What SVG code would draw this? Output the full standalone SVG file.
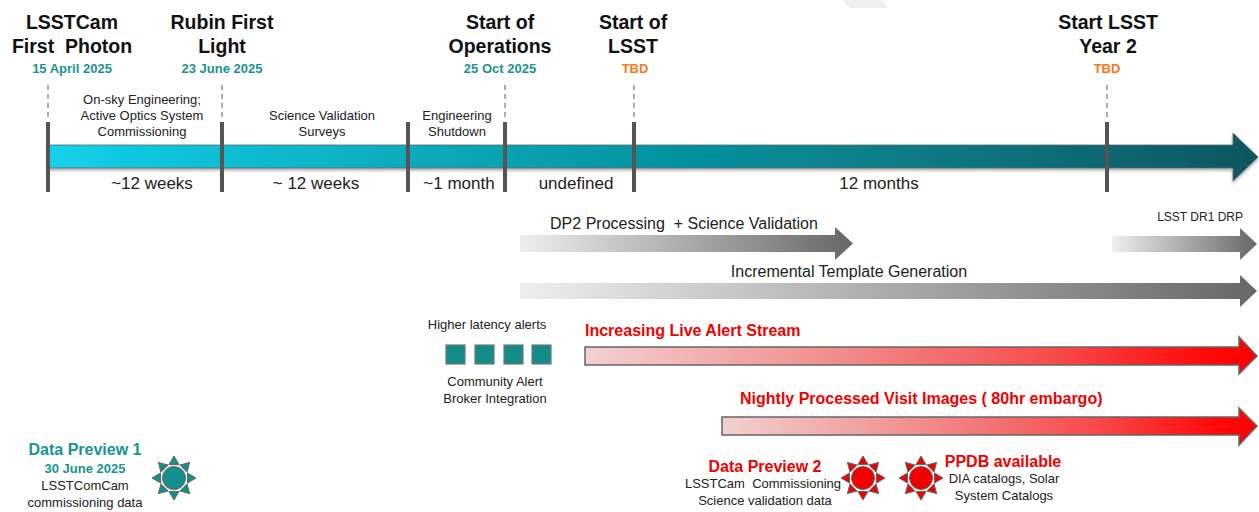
<svg xmlns="http://www.w3.org/2000/svg" width="1259" height="512" viewBox="0 0 1259 512">
<style>
  text { font-family: "Liberation Sans", Arial, sans-serif; }
  .h { font-weight: bold; font-size: 19.5px; fill: #111; text-anchor: middle; }
  .date { font-weight: bold; font-size: 13px; fill: #17948f; text-anchor: middle; }
  .tbd { font-weight: bold; font-size: 13px; fill: #f47b20; text-anchor: middle; }
  .ph { font-size: 13px; fill: #222; text-anchor: middle; }
  .dur { font-size: 17px; fill: #222; text-anchor: middle; }
  .glbl { font-size: 16px; fill: #222; text-anchor: middle; }
  .rlbl { font-weight: bold; font-size: 16px; fill: #f20000; }
  .tlbl { font-weight: bold; font-size: 16px; fill: #17948f; text-anchor: middle; }
  .tick { stroke: #555; stroke-width: 4; }
  .dash { stroke: #777; stroke-width: 1.2; stroke-dasharray: 5 4; }
  .sq { fill: #148c88; stroke: #777; stroke-width: 1.2; }
  .redarrow { stroke: #666; stroke-width: 1.5; }
</style>
<defs>
  <linearGradient id="gMain" gradientUnits="userSpaceOnUse" x1="48" y1="0" x2="1258" y2="0">
    <stop offset="0" stop-color="#14d0ea"/>
    <stop offset="0.15" stop-color="#0cbcd3"/>
    <stop offset="0.35" stop-color="#07a5b5"/>
    <stop offset="0.55" stop-color="#068f9b"/>
    <stop offset="0.78" stop-color="#0a737e"/>
    <stop offset="1" stop-color="#0c5660"/>
  </linearGradient>
  <linearGradient id="gGray" x1="0" y1="0" x2="1" y2="0">
    <stop offset="0" stop-color="#eeeeee"/>
    <stop offset="1" stop-color="#676767"/>
  </linearGradient>
  <linearGradient id="gRed" x1="0" y1="0" x2="1" y2="0">
    <stop offset="0" stop-color="#f2d0d0"/>
    <stop offset="0.4" stop-color="#f18787"/>
    <stop offset="0.7" stop-color="#f84a4a"/>
    <stop offset="0.92" stop-color="#ff0a0a"/>
    <stop offset="1" stop-color="#ff0000"/>
  </linearGradient>
  <filter id="shadow" x="-5%" y="-30%" width="110%" height="170%">
    <feDropShadow dx="0" dy="2" stdDeviation="1.5" flood-color="#000" flood-opacity="0.35"/>
  </filter>
  <g id="sun" stroke="#666" stroke-width="1">
    <polygon points="-5,-13.5 5,-13.5 0,-22"/>
    <polygon points="-5,-13.5 5,-13.5 0,-22" transform="rotate(45)"/>
    <polygon points="-5,-13.5 5,-13.5 0,-22" transform="rotate(90)"/>
    <polygon points="-5,-13.5 5,-13.5 0,-22" transform="rotate(135)"/>
    <polygon points="-5,-13.5 5,-13.5 0,-22" transform="rotate(180)"/>
    <polygon points="-5,-13.5 5,-13.5 0,-22" transform="rotate(225)"/>
    <polygon points="-5,-13.5 5,-13.5 0,-22" transform="rotate(270)"/>
    <polygon points="-5,-13.5 5,-13.5 0,-22" transform="rotate(315)"/>
    <circle cx="0" cy="0" r="11.5"/>
  </g>
</defs>

<polygon points="842,0 882,0 888,8 850,8" fill="#efefef"/>

<g id="timeline">
  <path d="M48,145 L1233,145 L1233,133 L1258,157 L1233,181 L1233,168 L48,168 Z" fill="url(#gMain)" stroke="#5a6a6c" stroke-width="0.8" filter="url(#shadow)"/>
</g>

<g id="connectors">
  <line class="dash" x1="48" y1="85" x2="48" y2="121"/>
  <line class="dash" x1="222" y1="85" x2="222" y2="121"/>
  <line class="dash" x1="505" y1="85" x2="505" y2="121"/>
  <line class="dash" x1="634" y1="85" x2="634" y2="121"/>
  <line class="dash" x1="1107" y1="85" x2="1107" y2="121"/>
  <line class="tick" x1="48" y1="122" x2="48" y2="192"/>
  <line class="tick" x1="222" y1="122" x2="222" y2="192"/>
  <line class="tick" x1="408" y1="122" x2="408" y2="192"/>
  <line class="tick" x1="505" y1="122" x2="505" y2="192"/>
  <line class="tick" x1="634" y1="122" x2="634" y2="192"/>
  <line class="tick" x1="1107" y1="122" x2="1107" y2="192"/>
</g>

<g id="m-first-photon">
  <text class="h" x="72" y="29">LSSTCam</text>
  <text class="h" x="72" y="53" xml:space="preserve">First  Photon</text>
  <text class="date" x="72" y="73">15 April 2025</text>
</g>
<g id="m-first-light">
  <text class="h" x="222" y="29">Rubin First</text>
  <text class="h" x="222" y="53">Light</text>
  <text class="date" x="222" y="73">23 June 2025</text>
</g>
<g id="m-start-ops">
  <text class="h" x="500" y="29">Start of</text>
  <text class="h" x="500" y="53">Operations</text>
  <text class="date" x="500" y="73">25 Oct 2025</text>
</g>
<g id="m-start-lsst">
  <text class="h" x="633" y="29">Start of</text>
  <text class="h" x="633" y="53">LSST</text>
  <text class="tbd" x="635" y="73">TBD</text>
</g>
<g id="m-year2">
  <text class="h" x="1108" y="29">Start LSST</text>
  <text class="h" x="1108" y="53">Year 2</text>
  <text class="tbd" x="1107" y="73">TBD</text>
</g>

<g id="phase-onsky">
  <text class="ph" x="142" y="104">On-sky Engineering;</text>
  <text class="ph" x="142" y="120">Active Optics System</text>
  <text class="ph" x="142" y="136">Commissioning</text>
  <text class="dur" x="152" y="189">~12 weeks</text>
</g>
<g id="phase-sv">
  <text class="ph" x="322" y="120">Science Validation</text>
  <text class="ph" x="322" y="136">Surveys</text>
  <text class="dur" x="316" y="189">~ 12 weeks</text>
</g>
<g id="phase-shutdown">
  <text class="ph" x="457" y="120">Engineering</text>
  <text class="ph" x="457" y="136">Shutdown</text>
  <text class="dur" x="459" y="189">~1 month</text>
</g>
<g id="phase-undefined">
  <text class="dur" x="576" y="189">undefined</text>
</g>
<g id="phase-12months">
  <text class="dur" x="879" y="189">12 months</text>
</g>

<g id="dp2-processing">
  <path d="M520,235 L835,235 L835,227 L853,243.5 L835,260 L835,252 L520,252 Z" fill="url(#gGray)"/>
  <text class="glbl" x="684" y="229" xml:space="preserve">DP2 Processing  + Science Validation</text>
</g>
<g id="dr1-drp">
  <path d="M1112,236 L1240,236 L1240,228 L1257,244 L1240,260 L1240,252 L1112,252 Z" fill="url(#gGray)"/>
  <text x="1243" y="221" font-size="12" fill="#222" text-anchor="end">LSST DR1 DRP</text>
</g>
<g id="template-gen">
  <path d="M520,283 L1240,283 L1240,275 L1257,291 L1240,307 L1240,299 L520,299 Z" fill="url(#gGray)"/>
  <text class="glbl" x="849" y="277" font-size="16.5">Incremental Template Generation</text>
</g>

<g id="broker">
  <text class="ph" x="487" y="329">Higher latency alerts</text>
  <rect class="sq" x="446" y="345" width="19" height="19"/>
  <rect class="sq" x="475" y="345" width="19" height="19"/>
  <rect class="sq" x="504" y="345" width="19" height="19"/>
  <rect class="sq" x="532" y="345" width="19" height="19"/>
  <text class="ph" x="495" y="386">Community Alert</text>
  <text class="ph" x="495" y="403">Broker Integration</text>
</g>

<g id="live-alerts">
  <path class="redarrow" d="M585,347 L1239,347 L1239,337 L1257,356 L1239,374 L1239,365 L585,365 Z" fill="url(#gRed)"/>
  <text class="rlbl" x="585" y="336">Increasing Live Alert Stream</text>
</g>
<g id="visit-images">
  <path class="redarrow" d="M722,417 L1239,417 L1239,408 L1257,426 L1239,445 L1239,435 L722,435 Z" fill="url(#gRed)"/>
  <text class="rlbl" x="740" y="404">Nightly Processed Visit Images ( 80hr embargo)</text>
</g>

<g id="dp1">
  <text class="tlbl" x="85" y="455">Data Preview 1</text>
  <text class="date" x="85" y="473">30 June 2025</text>
  <text class="ph" x="85" y="490">LSSTComCam</text>
  <text class="ph" x="85" y="507">commissioning data</text>
  <use href="#sun" x="174" y="478" fill="#13908c"/>
</g>
<g id="dp2">
  <text class="rlbl" x="765" y="472" text-anchor="middle">Data Preview 2</text>
  <text class="ph" x="763" y="488" font-size="12.5" xml:space="preserve">LSSTCam  Commissioning</text>
  <text class="ph" x="765" y="505">Science validation data</text>
  <use href="#sun" x="863" y="478" fill="#f20000"/>
</g>
<g id="ppdb">
  <use href="#sun" x="921" y="478" fill="#f20000"/>
  <text class="rlbl" x="1003" y="467" text-anchor="middle">PPDB available</text>
  <text class="ph" x="1004" y="483">DIA catalogs, Solar</text>
  <text class="ph" x="1004" y="500">System Catalogs</text>
</g>
</svg>
